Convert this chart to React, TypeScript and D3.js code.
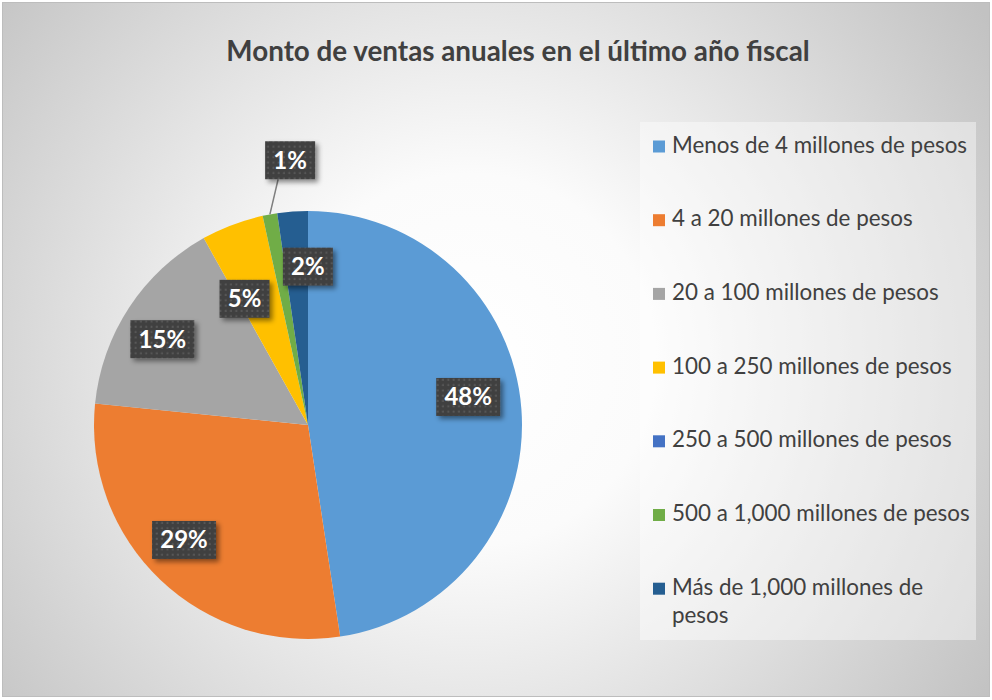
import React from 'react';
import * as d3 from 'd3';

const title = "Monto de ventas anuales en el último año fiscal";
const categories = [
  "Menos de 4 millones de pesos",
  "4 a 20 millones de pesos",
  "20 a 100 millones de pesos",
  "100 a 250 millones de pesos",
  "250 a 500 millones de pesos",
  "500 a 1,000 millones de pesos",
  "Más de 1,000 millones de pesos",
];
const values = [47.6, 29.0, 15.3, 4.7, 0, 1.1, 2.3];
const colors = ["#5B9BD5", "#ED7D31", "#A5A5A5", "#FFC000", "#4472C4", "#70AD47", "#255E91"];

// label layout (best-fit placement, relative to slice centroid)
const labelRadius = [0.76, 0.79, 0.79, 0.66, 0, 1.24, 0.74];
const labelShiftDeg = [-5.6, 3.6, -2.8, -6, 0, 6.4, 4.1];

const W = 992;
const H = 700;
const FONT = "Lato, 'Open Sans', sans-serif";

export default function App() {
  const cx = 308;
  const cy = 425;
  const R = 214;
  const total = d3.sum(values);
  const pie = d3.pie<number>().sort(null).value((d) => d).startAngle(0).endAngle(2 * Math.PI);
  const arcs = pie(values);
  const arcGen = d3.arc<d3.PieArcDatum<number>>().innerRadius(0).outerRadius(R);

  const legendX = 640;
  const legendY = 122;
  const legendW = 336;
  const legendH = 518;
  const rowBase = d3.scaleLinear().domain([0, 1]).range([152.5, 152.5 + 73.7]);

  const wrap = (s: string) => {
    if (s.length <= 29) return [s];
    const words = s.split(" ");
    const last = words.pop() as string;
    return [words.join(" "), last];
  };

  return (
    <div style={{ position: "absolute", left: 0, top: 0, width: W, height: H }}>
      <svg width={W} height={H} style={{ display: "block" }}>
        <defs>
          <radialGradient id="bg" gradientUnits="userSpaceOnUse" cx={470} cy={360} r={620}>
            <stop offset="0" stopColor="#ffffff" />
            <stop offset="0.3" stopColor="#fbfbfb" />
            <stop offset="1" stopColor="#c2c2c2" />
          </radialGradient>
          <pattern id="dots" width={5.3} height={5.3} patternUnits="userSpaceOnUse">
            <rect width={5.3} height={5.3} fill="#404040" />
            <rect x={1.5} y={1.5} width={2} height={2} fill="#585858" />
          </pattern>
          <filter id="shadow" x="-30%" y="-30%" width="160%" height="160%">
            <feDropShadow dx={3} dy={3} stdDeviation={2.5} floodColor="#000" floodOpacity={0.45} />
          </filter>
        </defs>
        <rect x={0} y={0} width={W} height={H} fill="#ffffff" />
        <rect x={2.5} y={2.5} width={987} height={694} fill="url(#bg)" stroke="#bdbdbd" strokeWidth={1} />

        <text x={518} y={61} textAnchor="middle" fontFamily={FONT} fontWeight={700} fontSize={27.8} fill="#404040">
          {title}
        </text>

        <g transform={`translate(${cx},${cy})`}>
          {arcs.map((a, i) => (
            <path key={i} d={arcGen(a) || ""} fill={colors[i]} />
          ))}
          {arcs.map((a, i) => {
            if (a.value <= 0) return null;
            const mid = (a.startAngle + a.endAngle) / 2;
            const ang = mid + (labelShiftDeg[i] * Math.PI) / 180;
            const r = labelRadius[i] * R;
            const lx = r * Math.sin(ang);
            const ly = -r * Math.cos(ang);
            const label = `${Math.round((a.value / total) * 100)}%`;
            const bw = label.length === 2 ? 50 : 64;
            const bh = 38;
            const outside = labelRadius[i] > 1;
            const ex = R * Math.sin(mid);
            const ey = -R * Math.cos(mid);
            return (
              <g key={`l${i}`}>
                {outside && (
                  <line x1={lx - 12} y1={ly + bh / 2} x2={ex} y2={ey} stroke="#7f7f7f" strokeWidth={1.5} />
                )}
                <rect x={lx - bw / 2} y={ly - bh / 2} width={bw} height={bh} fill="url(#dots)" filter="url(#shadow)" />
                <text x={lx} y={ly + 8.5} textAnchor="middle" fontFamily={FONT} fontWeight={700} fontSize={24} fill="#ffffff">
                  {label}
                </text>
              </g>
            );
          })}
        </g>

        <rect x={legendX} y={legendY} width={legendW} height={legendH} fill="#ffffff" fillOpacity={0.42} />
        {categories.map((c, i) => {
          const base = rowBase(i);
          const lines = wrap(c);
          return (
            <g key={`lg${i}`}>
              <rect x={653} y={base - 12} width={12} height={12} fill={colors[i]} />
              {lines.map((ln, j) => (
                <text key={j} x={672} y={base + j * 28} fontFamily={FONT} fontSize={22.4} fill="#404040">
                  {ln}
                </text>
              ))}
            </g>
          );
        })}
      </svg>
    </div>
  );
}
